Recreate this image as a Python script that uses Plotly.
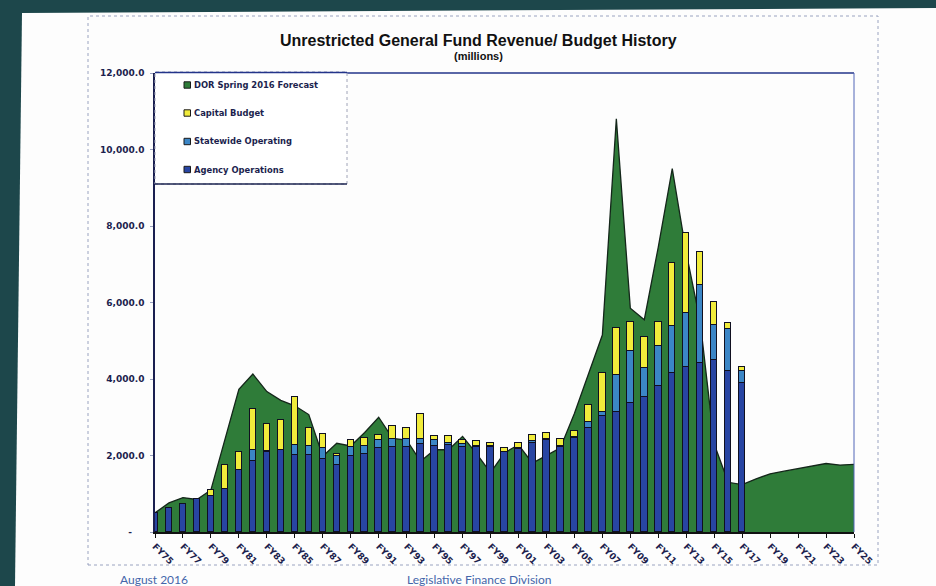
import plotly.graph_objects as go

# Fiscal years shown on the category axis (FY75 .. FY25)
years = [f"FY{(75 + i) % 100:02d}" for i in range(51)]

# DOR Spring 2016 revenue forecast / history ($ millions), FY75..FY25
dor_forecast = [
    500, 760, 900, 850, 1100, 2400, 3730, 4130, 3670, 3440,
    3300, 3070, 1980, 2320, 2250, 2600, 3000, 2450, 2400, 1850,
    2150, 2150, 2500, 2050, 1550, 2070, 2280, 1800, 2000, 2200,
    3100, 4100, 5150, 10800, 5850, 5550, 7450, 9500, 7300, 5500,
    2300, 1300, 1240, 1390, 1520, 1590, 1660, 1720, 1790, 1750,
    1770,
]

# Budget components ($ millions), FY75..FY17
agency_ops = [
    500, 630, 740, 870, 950, 1130, 1610, 1850, 2080, 2150,
    2020, 2020, 1910, 1740, 1980, 2040, 2200, 2220, 2220, 2310,
    2260, 2280, 2220, 2230, 2220, 2080, 2170, 2340, 2400, 2230,
    2450, 2720, 3020, 3150, 3370, 3530, 3830, 4150, 4310, 4420,
    4500, 4200, 3890,
]
statewide_ops = [
    0, 0, 0, 0, 0, 0, 0, 300, 30, 0,
    260, 240, 290, 240, 245, 220, 215, 210, 210, 130,
    140, 60, 90, 30, 30, 20, 20, 30, 30, 30,
    30, 150, 130, 960, 1350, 760, 1020, 1235, 1410, 2040,
    910, 1110, 330,
]
capital_budget = [
    0, 0, 0, 0, 140, 630, 470, 1060, 720, 770,
    1250, 460, 365, 60, 190, 200, 130, 350, 300, 645,
    120, 160, 100, 130, 90, 100, 140, 170, 150, 160,
    160, 440, 1020, 1220, 780, 800, 630, 1635, 2090, 870,
    610, 150, 100,
]

y_ticks = [0, 2000, 4000, 6000, 8000, 10000, 12000]
y_ticktext = ["-\u00a0\u00a0\u00a0\u00a0"] + [f"{v:,.1f}" for v in y_ticks[1:]]

GREEN = "#2f7c39"
YELLOW = "#f1ec3b"
MID_BLUE = "#3b86c6"
DARK_BLUE = "#2845a3"
NAVY_TEXT = "#1c1f4e"

W, H = 936, 586
L, R, T, B = 155, 82, 73, 54
PW, PH = W - L - R, H - T - B


def px(x):
    return (x - L) / PW


def py(y):
    return (H - B - y) / PH


xs_area = list(range(len(years)))
xs_bar = list(range(len(agency_ops)))

fig = go.Figure()

# revenue area on the base axes
fig.add_trace(go.Scatter(
    x=xs_area, y=dor_forecast, mode="lines", fill="tozeroy",
    fillcolor=GREEN, line=dict(color="#14261a", width=1.3),
    name="DOR Spring 2016 Forecast", showlegend=False, hoverinfo="skip",
))

# stacked budget bars on an overlaid pair of axes so they sit above the area
bar_line = dict(color="#101020", width=1)
for vals, col, nm in [
    (agency_ops, DARK_BLUE, "Agency Operations"),
    (statewide_ops, MID_BLUE, "Statewide Operating"),
    (capital_budget, YELLOW, "Capital Budget"),
]:
    fig.add_trace(go.Bar(
        x=xs_bar, y=vals, width=0.46, marker=dict(color=col, line=bar_line),
        name=nm, xaxis="x2", yaxis="y2", showlegend=False, hoverinfo="skip",
    ))

shapes = []
# white slide behind the chart, slightly skewed like a photographed page
shapes.append(dict(
    type="path", xref="paper", yref="paper", layer="below",
    path=f"M {px(22)},{py(13)} L {px(936)},{py(8)} L {px(936)},{py(586)} L {px(15)},{py(586)} Z",
    fillcolor="#fdfdfd", line=dict(width=0),
))
# chart frame (dotted)
shapes.append(dict(
    type="rect", xref="paper", yref="paper", layer="below",
    x0=px(88), x1=px(878), y0=py(565), y1=py(16),
    line=dict(color="#9aa3c0", width=1, dash="dot"), fillcolor="rgba(0,0,0,0)",
))
# plot-area top and right borders
shapes.append(dict(type="line", xref="paper", yref="paper", x0=0, x1=1, y0=1, y1=1,
                   line=dict(color="#23348a", width=1.4)))
shapes.append(dict(type="line", xref="paper", yref="paper", x0=1, x1=1, y0=0, y1=1,
                   line=dict(color="#5366b8", width=1)))
# legend box
shapes.append(dict(
    type="rect", xref="paper", yref="paper",
    x0=px(155), x1=px(347), y0=py(184), y1=py(72),
    fillcolor="white", line=dict(color="#a0a4b8", width=1, dash="dot"),
))
shapes.append(dict(type="line", xref="paper", yref="paper",
                   x0=px(155), x1=px(347), y0=py(184), y1=py(184),
                   line=dict(color="#1d2450", width=1.5)))
shapes.append(dict(type="line", xref="paper", yref="paper",
                   x0=px(155), x1=px(347), y0=py(72.5), y1=py(72.5),
                   line=dict(color="#23348a", width=1.4)))

legend_items = [
    ("DOR Spring 2016 Forecast", GREEN, 85),
    ("Capital Budget", YELLOW, 113),
    ("Statewide Operating", MID_BLUE, 141.5),
    ("Agency Operations", DARK_BLUE, 169.5),
]
annotations = []
for label, col, yy in legend_items:
    shapes.append(dict(
        type="rect", xref="paper", yref="paper",
        x0=px(184), x1=px(190.5), y0=py(yy + 3.2), y1=py(yy - 3.2),
        fillcolor=col, line=dict(color="#1a1a1a", width=1),
    ))
    annotations.append(dict(
        x=px(192), y=py(yy), xref="paper", yref="paper", xanchor="left", yanchor="middle",
        text=label, showarrow=False,
        font=dict(family="DejaVu Sans", size=8.4, color=NAVY_TEXT, weight="bold"),
    ))

annotations += [
    dict(x=px(478), y=py(40), xref="paper", yref="paper", xanchor="center", yanchor="middle",
         text="Unrestricted General Fund Revenue/ Budget History", showarrow=False,
         font=dict(family="Liberation Sans", size=16, color="#111111", weight="bold")),
    dict(x=px(478), y=py(56), xref="paper", yref="paper", xanchor="center", yanchor="middle",
         text="(millions)", showarrow=False,
         font=dict(family="Liberation Sans", size=11, color="#111111", weight="bold")),
    dict(x=px(118), y=py(579), xref="paper", yref="paper", xanchor="left", yanchor="middle",
         text="August 2016", showarrow=False,
         font=dict(family="Lato", size=12, color="#4466aa")),
    dict(x=px(405), y=py(579), xref="paper", yref="paper", xanchor="left", yanchor="middle",
         text="Legislative Finance Division", showarrow=False,
         font=dict(family="Lato", size=12, color="#4466aa")),
]

tick_font = dict(family="DejaVu Sans", size=9, color=NAVY_TEXT, weight="bold")
fig.update_layout(
    width=W, height=H,
    margin=dict(l=L, r=R, t=T, b=B, pad=0),
    paper_bgcolor="#1d474b",
    plot_bgcolor="rgba(0,0,0,0)",
    barmode="stack",
    bargap=0,
    shapes=shapes,
    annotations=annotations,
    xaxis=dict(
        range=[0, 50], tickmode="array",
        tickvals=xs_area[::2], ticktext=years[::2], tickangle=45,
        tickfont=tick_font, showgrid=False, zeroline=False,
        showline=True, linecolor="#111111", linewidth=1.5,
        ticks="outside", ticklen=4, tickcolor="#111111",
    ),
    yaxis=dict(
        range=[0, 12000], tickmode="array", tickvals=y_ticks, ticktext=y_ticktext,
        tickfont=tick_font, showgrid=False, zeroline=False,
        showline=True, linecolor="#1a1f50", linewidth=1.5,
        ticks="outside", ticklen=3, tickcolor="#9aa0c0", ticklabelstandoff=4,
    ),
    xaxis2=dict(range=[0, 50], overlaying="x", visible=False),
    yaxis2=dict(range=[0, 12000], overlaying="y", visible=False),
)

fig.write_html("out.html")
